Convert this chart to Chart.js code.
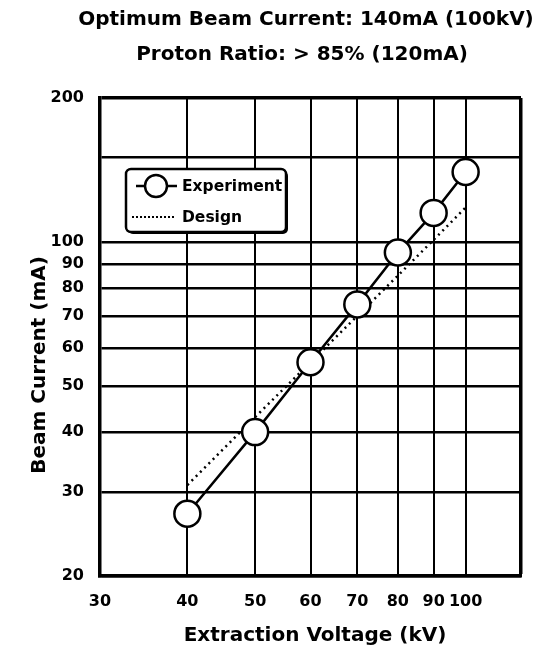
<!DOCTYPE html>
<html>
<head>
<meta charset="utf-8">
<script src="https://cdn.jsdelivr.net/npm/chart.js@4"></script>
<style>
  body{margin:0;background:#fff}
  #box{width:537px;height:650px}
</style>
</head>
<body>
<div id="box"><canvas id="myChart" width="537" height="650"></canvas></div>
<script>
// values (log-log)
const voltages = [40, 50, 60, 70, 80, 90, 100]
const experimentCurrent = [27, 40, 56, 74, 95, 115, 140]
const designCurrent = [31, 43, 56, 70, 85, 101, 118]
const xTicks = [30, 40, 50, 60, 70, 80, 90, 100, 120]
const yTicks = [20, 30, 40, 50, 60, 70, 80, 90, 100, 150, 200]
const titleLines = ["Optimum Beam Current: 140mA (100kV)", "Proton Ratio: > 85% (120mA)"]
const legendLabels = ["Experiment", "Design"]

const FONT = '"DejaVu Sans", "Liberation Sans", sans-serif'

function toPoints(ys){
  return voltages.map((v, i) => ({x: v, y: ys[i]}))
}

// titles + legend box drawn on the canvas
const decorations = {
  id: "decorations",
  afterDraw(chart){
    const ctx = chart.ctx
    const area = chart.chartArea
    ctx.save()
    ctx.fillStyle = "#000"
    ctx.textAlign = "center"
    ctx.textBaseline = "middle"
    ctx.font = "bold 20px " + FONT
    ctx.fillText(titleLines[0], 306, 20)
    ctx.fillText(titleLines[1], 302, 55)
    ctx.fillText("Extraction Voltage (kV)", 315, 636)
    ctx.translate(40, 365)
    ctx.rotate(-Math.PI/2)
    ctx.fillText("Beam Current (mA)", 0, 0)
    ctx.restore()

    // legend
    const lx = area.left + 26, ly = area.top + 71, lw = 160, lh = 63
    ctx.save()
    ctx.fillStyle = "#000"
    ctx.beginPath()
    ctx.roundRect(lx + 2, ly + 2, lw, lh, 5)
    ctx.fill()
    ctx.fillStyle = "#fff"
    ctx.strokeStyle = "#000"
    ctx.lineWidth = 2.5
    ctx.beginPath()
    ctx.roundRect(lx, ly, lw, lh, 5)
    ctx.fill()
    ctx.stroke()

    let y1 = ly + 17
    ctx.beginPath()
    ctx.moveTo(lx + 10, y1)
    ctx.lineTo(lx + 51, y1)
    ctx.stroke()
    ctx.beginPath()
    ctx.arc(lx + 30, y1, 11, 0, Math.PI*2)
    ctx.fill()
    ctx.stroke()

    let y2 = ly + 48
    ctx.lineWidth = 2
    ctx.setLineDash([2, 2])
    ctx.beginPath()
    ctx.moveTo(lx + 6, y2)
    ctx.lineTo(lx + 50, y2)
    ctx.stroke()
    ctx.setLineDash([])

    ctx.fillStyle = "#000"
    ctx.font = "bold 15.5px " + FONT
    ctx.textAlign = "left"
    ctx.textBaseline = "middle"
    ctx.fillText(legendLabels[0], lx + 56, y1 + 1)
    ctx.fillText(legendLabels[1], lx + 56, y2 + 1)
    ctx.restore()
  }
}

const data = {
  datasets: [
    {
      label: legendLabels[0],
      data: toPoints(experimentCurrent),
      borderColor: "#000",
      borderWidth: 2.5,
      pointRadius: 13,
      pointBackgroundColor: "#fff",
      pointBorderColor: "#000",
      pointBorderWidth: 2.5,
      tension: 0
    },
    {
      label: legendLabels[1],
      data: toPoints(designCurrent),
      borderColor: "#000",
      borderWidth: 2.5,
      borderDash: [2, 4],
      pointRadius: 0,
      tension: 0
    }
  ]
}

const config = {
  type: "line",
  data,
  plugins: [decorations],
  options: {
    responsive: false,
    animation: false,
    layout: {padding: {top: 98, right: 9, left: 0, bottom: 0}},
    plugins: {legend: {display: false}, tooltip: {enabled: false}},
    scales: {
      x: {
        type: "logarithmic",
        min: 30,
        max: 120,
        afterBuildTicks: (scale) => { scale.ticks = xTicks.map(v => ({value: v})) },
        afterFit: (scale) => { scale.height = 74 },
        border: {color: "#000", width: 3.5},
        grid: {
          color: "#000",
          lineWidth: (c) => (c.tick && c.tick.value === 120 ? 3.5 : 2),
          drawTicks: false
        },
        ticks: {
          autoSkip: false,
          maxRotation: 0,
          padding: 16,
          color: "#000",
          font: {family: FONT, size: 16, weight: "bold"},
          callback: (v) => (v === 120 ? "" : String(v))
        }
      },
      y: {
        type: "logarithmic",
        min: 20,
        max: 200,
        afterBuildTicks: (scale) => { scale.ticks = yTicks.map(v => ({value: v})) },
        afterFit: (scale) => { scale.width = 100 },
        border: {color: "#000", width: 3.5},
        grid: {
          color: "#000",
          lineWidth: (c) => (c.tick && c.tick.value === 200 ? 3.5 : 2.5),
          drawTicks: false
        },
        ticks: {
          autoSkip: false,
          padding: 16,
          color: "#000",
          font: {family: FONT, size: 16, weight: "bold"},
          callback: (v) => (v === 150 ? "" : String(v))
        }
      }
    }
  }
}

const myChart = document.getElementById("myChart")
new Chart(myChart, config)
</script>
</body>
</html>
